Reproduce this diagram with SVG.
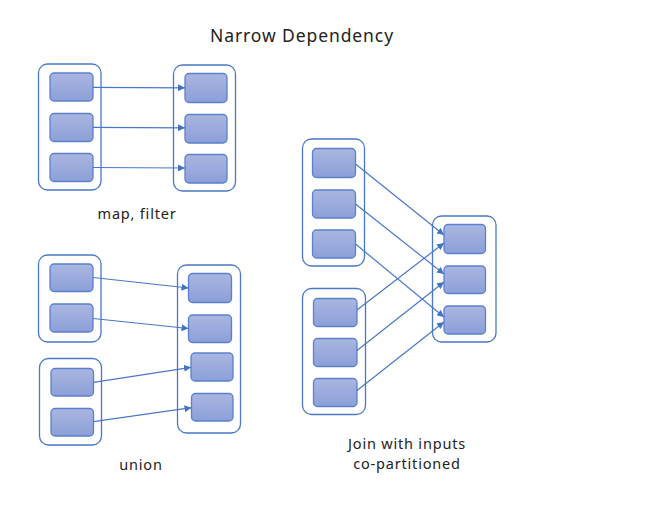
<svg xmlns="http://www.w3.org/2000/svg" width="658" height="508" viewBox="0 0 658 508">
<defs>
<linearGradient id="g" x1="0" y1="0" x2="0" y2="1">
<stop offset="0" stop-color="#aab6e0"/>
<stop offset="1" stop-color="#8b9fd8"/>
</linearGradient>
<marker id="ah" viewBox="0 0 10 10" refX="10" refY="5" markerWidth="7" markerHeight="7" orient="auto" markerUnits="userSpaceOnUse">
<path d="M0,0 L10,5 L0,10 z" fill="#4472c4"/>
</marker>
</defs>
<style>
.c{fill:#fff;stroke:#4a78c8;stroke-width:1.3}
.b{fill:url(#g);stroke:#5b80cc;stroke-width:1.3}
.e{stroke:#4a78c8;stroke-width:1.2;fill:none;marker-end:url(#ah)}
text{font-family:"Noto Sans","Open Sans","Liberation Sans",sans-serif;fill:#222}
.t{font-size:17.5px;letter-spacing:0.9px}
.l{font-size:14.5px;letter-spacing:0.8px}
</style>
<rect width="658" height="508" fill="#fff"/>
<text class="t" x="302" y="42" text-anchor="middle">Narrow Dependency</text>

<g id="mapLeft">
<rect class="c" x="38.5" y="64" width="62.5" height="126" rx="9"/>
<rect class="b" x="50" y="73" width="43" height="28" rx="4"/>
<rect class="b" x="50" y="113.5" width="43" height="28" rx="4"/>
<rect class="b" x="50" y="153.5" width="43" height="28" rx="4"/>
</g>
<g id="mapRight">
<rect class="c" x="173.5" y="65" width="62" height="126" rx="9"/>
<rect class="b" x="185" y="73.5" width="42" height="29" rx="4"/>
<rect class="b" x="185" y="114.5" width="42" height="28.5" rx="4"/>
<rect class="b" x="185" y="154.5" width="42" height="28.5" rx="4"/>
</g>
<text class="l" x="137" y="219" text-anchor="middle">map, filter</text>

<g id="unionLeftA">
<rect class="c" x="38.5" y="255" width="62.5" height="87" rx="9"/>
<rect class="b" x="50" y="264" width="43" height="27.5" rx="4"/>
<rect class="b" x="50" y="304" width="43" height="28" rx="4"/>
</g>
<g id="unionLeftB">
<rect class="c" x="39.5" y="358.5" width="62" height="86.5" rx="9"/>
<rect class="b" x="51" y="368.5" width="42.5" height="27.5" rx="4"/>
<rect class="b" x="51" y="408.5" width="42.5" height="27.5" rx="4"/>
</g>
<g id="unionRight">
<rect class="c" x="177.5" y="265" width="63" height="168" rx="9"/>
<rect class="b" x="188.5" y="273.5" width="43" height="29" rx="4"/>
<rect class="b" x="188.5" y="315" width="43" height="27.5" rx="4"/>
<rect class="b" x="191" y="353" width="42" height="28" rx="4"/>
<rect class="b" x="191.5" y="393.5" width="41.5" height="27.5" rx="4"/>
</g>
<text class="l" x="141" y="470" text-anchor="middle">union</text>

<g id="joinLeftA">
<rect class="c" x="302.5" y="139" width="62" height="127" rx="9"/>
<rect class="b" x="312.5" y="148.5" width="43" height="29" rx="4"/>
<rect class="b" x="312.5" y="190" width="43" height="28" rx="4"/>
<rect class="b" x="312.5" y="230" width="43" height="28" rx="4"/>
</g>
<g id="joinLeftB">
<rect class="c" x="302.5" y="288.5" width="63" height="126" rx="9"/>
<rect class="b" x="313.5" y="298.5" width="43.5" height="28" rx="4"/>
<rect class="b" x="313.5" y="338.5" width="43.5" height="28" rx="4"/>
<rect class="b" x="313.5" y="378.5" width="43.5" height="28" rx="4"/>
</g>
<g id="joinRight">
<rect class="c" x="432.5" y="216" width="63.5" height="126" rx="9"/>
<rect class="b" x="444" y="224.5" width="41.5" height="29" rx="4"/>
<rect class="b" x="444" y="266" width="41.5" height="27.5" rx="4"/>
<rect class="b" x="444" y="306" width="41.5" height="28" rx="4"/>
</g>
<text class="l" x="407" y="449" text-anchor="middle">Join with inputs</text>
<text class="l" x="407" y="469" text-anchor="middle">co-partitioned</text>

<g id="connectors">
<line class="e" x1="93" y1="87.3" x2="185" y2="87.8"/>
<line class="e" x1="93" y1="127.3" x2="185" y2="127.8"/>
<line class="e" x1="93" y1="167.5" x2="185" y2="168"/>

<line class="e" x1="93" y1="277.5" x2="188.5" y2="288"/>
<line class="e" x1="93" y1="318.5" x2="188.5" y2="328.5"/>
<line class="e" x1="93.5" y1="382.3" x2="191" y2="367.3"/>
<line class="e" x1="93.5" y1="421.7" x2="191.5" y2="407.7"/>

<line class="e" x1="355.5" y1="164" x2="444" y2="235"/>
<line class="e" x1="355.5" y1="204" x2="444" y2="274"/>
<line class="e" x1="355.5" y1="244" x2="444" y2="317"/>
<line class="e" x1="357" y1="310" x2="444" y2="243"/>
<line class="e" x1="357" y1="350.5" x2="444" y2="282"/>
<line class="e" x1="357" y1="390.5" x2="444" y2="322"/>
</g>
</svg>
